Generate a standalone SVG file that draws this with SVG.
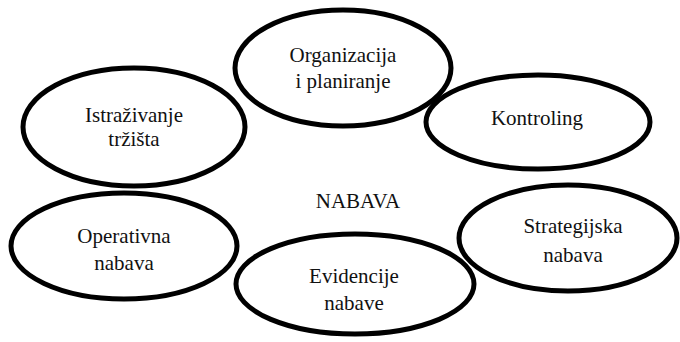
<svg xmlns="http://www.w3.org/2000/svg" width="680" height="342" viewBox="0 0 680 342">
<style>
.node ellipse{fill:none;stroke:#000;stroke-width:5}
text{font-family:"Liberation Serif","Times New Roman",serif;font-size:21px;fill:#111;text-anchor:middle}
.title{font-size:21px}
</style>
<rect width="680" height="342" fill="#fff"/>
<g id="connectors"></g>
<g id="organizacija" class="node">
<ellipse cx="343" cy="68" rx="108" ry="58"/>
<text x="343" y="62">Organizacija</text>
<text x="343" y="88">i planiranje</text>
</g>
<g id="istrazivanje" class="node">
<ellipse cx="134" cy="127" rx="111" ry="59"/>
<text x="134" y="122">Istraživanje</text>
<text x="134" y="146">tržišta</text>
</g>
<g id="kontroling" class="node">
<ellipse cx="538" cy="122" rx="112" ry="47"/>
<text x="537" y="125">Kontroling</text>
</g>
<g id="nabava">
<text class="title" x="358" y="208">NABAVA</text>
</g>
<g id="operativna" class="node">
<ellipse cx="124" cy="246" rx="113" ry="53"/>
<text x="124" y="243">Operativna</text>
<text x="124" y="270">nabava</text>
</g>
<g id="evidencije" class="node">
<ellipse cx="355" cy="284" rx="119" ry="50"/>
<text x="354" y="283">Evidencije</text>
<text x="354" y="310">nabave</text>
</g>
<g id="strategijska" class="node">
<ellipse cx="568" cy="238" rx="109" ry="53"/>
<text x="573" y="233">Strategijska</text>
<text x="573" y="262">nabava</text>
</g>
</svg>
